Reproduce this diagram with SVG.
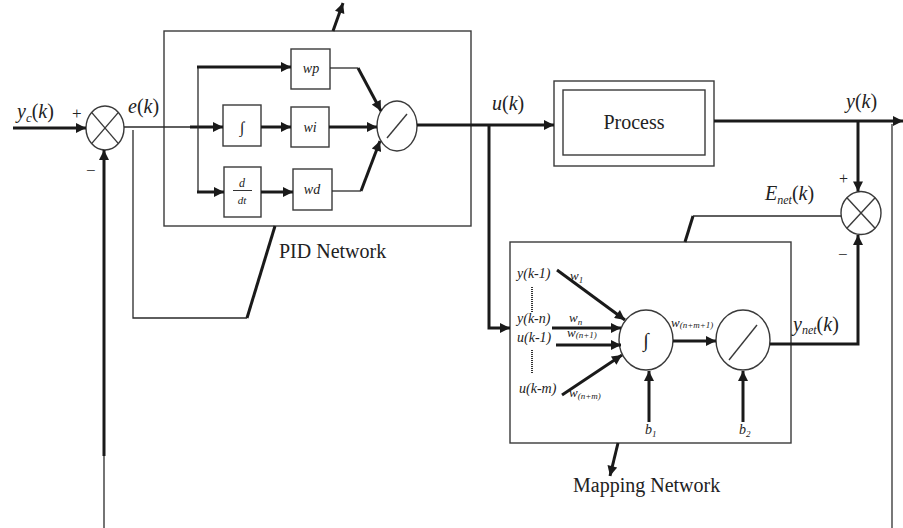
<svg xmlns="http://www.w3.org/2000/svg" width="903" height="528" viewBox="0 0 903 528">
<defs>
<marker id="ah" viewBox="0 0 10 10" refX="10" refY="5" markerWidth="12" markerHeight="10" markerUnits="userSpaceOnUse" orient="auto"><path d="M0,0 L10,5 L0,10 z" fill="#1a1a1a"/></marker>
<style>
.box{fill:none;stroke:#3a3a3a;stroke-width:1.4}
.thin{fill:none;stroke:#2a2a2a;stroke-width:1.3}
.thick{fill:none;stroke:#1a1a1a;stroke-width:3}
.gray{fill:none;stroke:#6a6a6a;stroke-width:1.8}
.arr{marker-end:url(#ah)}
text{font-family:"Liberation Serif","Times New Roman",serif;fill:#222}
.lbl{font-size:20px}
.it{font-style:italic}
.sm{font-size:14px;font-style:italic}
</style>
</defs>
<rect width="903" height="528" fill="#fff"/>

<g id="sum1">
<ellipse cx="105" cy="128" rx="19" ry="22" class="box"/>
<line x1="91.6" y1="112.4" x2="118.4" y2="143.6" class="box"/>
<line x1="91.6" y1="143.6" x2="118.4" y2="112.4" class="box"/>
</g>

<g id="pid-network">
<rect x="164" y="31" width="307" height="195" class="box"/>
<g id="wp"><rect x="291" y="49" width="39" height="40" class="box"/><text x="311" y="73" class="sm" text-anchor="middle">wp</text></g>
<g id="integ"><rect x="223" y="105" width="38" height="41" class="box"/><text x="242" y="133" font-size="16" text-anchor="middle">∫</text></g>
<g id="wi"><rect x="291" y="107" width="38" height="40" class="box"/><text x="310" y="132" class="sm" text-anchor="middle">wi</text></g>
<g id="ddt"><rect x="224" y="167" width="37" height="50" class="box"/><text x="242" y="187" font-size="12" font-style="italic" text-anchor="middle">d</text><line x1="233" y1="190.5" x2="252" y2="190.5" stroke="#333" stroke-width="1"/><text x="242" y="204" font-size="11" font-style="italic" text-anchor="middle">dt</text></g>
<g id="wd"><rect x="293" y="169" width="39" height="41" class="box"/><text x="312" y="194" class="sm" text-anchor="middle">wd</text></g>
<g id="pid-act"><ellipse cx="397" cy="126" rx="20" ry="25" class="box"/><line x1="387" y1="138" x2="407" y2="114" class="box"/></g>
<text x="279" y="258" class="lbl">PID Network</text>
</g>

<g id="process">
<rect x="554" y="81" width="160" height="85" class="box"/>
<rect x="563" y="90" width="142" height="65" class="box"/>
<text x="634" y="129" class="lbl" text-anchor="middle">Process</text>
</g>

<g id="sum2">
<ellipse cx="861" cy="213" rx="20" ry="21.5" class="box"/>
<line x1="846.9" y1="197.8" x2="875.1" y2="228.2" class="box"/>
<line x1="846.9" y1="228.2" x2="875.1" y2="197.8" class="box"/>
</g>

<g id="mapping-network">
<rect x="510" y="242" width="281" height="201" class="box"/>
<text x="517" y="278" class="sm">y(k-1)</text>
<line x1="532" y1="287" x2="532" y2="312" stroke="#333" stroke-width="2" stroke-dasharray="1,1"/>
<text x="517" y="323" class="sm">y(k-n)</text>
<text x="517" y="342" class="sm">u(k-1)</text>
<line x1="532" y1="350" x2="532" y2="373" stroke="#333" stroke-width="2" stroke-dasharray="1,1"/>
<text x="519" y="393" class="sm">u(k-m)</text>
<text x="570" y="280" font-size="13" font-style="italic">w<tspan font-size="9" dy="3">1</tspan></text>
<text x="569" y="322" font-size="13" font-style="italic">w<tspan font-size="9" dy="3">n</tspan></text>
<text x="567" y="337" font-size="13" font-style="italic">w<tspan font-size="9" dy="1">(n+1)</tspan></text>
<text x="569" y="397" font-size="13" font-style="italic">w<tspan font-size="9" dy="2">(n+m)</tspan></text>
<text x="671" y="327" font-size="13" font-style="italic">w<tspan font-size="9" dy="1">(n+m+1)</tspan></text>
<g id="sum-neuron"><ellipse cx="646" cy="340" rx="27" ry="30" class="box"/><text x="646" y="347" font-size="20" text-anchor="middle">∫</text></g>
<g id="act-neuron"><ellipse cx="743" cy="340" rx="27" ry="30" class="box"/><line x1="729" y1="360" x2="757" y2="325" class="box"/></g>
<text x="645" y="434" font-size="14" font-style="italic">b<tspan font-size="9" dy="3">1</tspan></text>
<text x="739" y="434" font-size="14" font-style="italic">b<tspan font-size="9" dy="3">2</tspan></text>
<text x="573" y="492" class="lbl">Mapping Network</text>
</g>

<g id="connectors">
<line x1="13" y1="128" x2="86" y2="128" class="thick arr"/>
<line x1="124" y1="127" x2="191" y2="127" class="thin"/>
<line x1="190" y1="127" x2="223" y2="127" class="thick arr"/>
<line x1="198" y1="67" x2="198" y2="192" class="thin"/>
<line x1="197" y1="67" x2="291" y2="67" class="thick arr"/>
<line x1="197" y1="192" x2="224" y2="192" class="thick arr"/>
<line x1="261" y1="127" x2="291" y2="127" class="thick arr"/>
<line x1="261" y1="192" x2="293" y2="192" class="thick arr"/>
<polyline points="330,68 358,68" class="thin"/>
<line x1="358" y1="68" x2="381" y2="111" class="thick arr"/>
<line x1="329" y1="127" x2="377" y2="127" class="thick arr"/>
<polyline points="332,191 361,191" class="thin"/>
<line x1="361" y1="191" x2="380" y2="141" class="thick arr"/>
<line x1="417" y1="125" x2="554" y2="125" class="thick arr"/>
<polyline points="489,125 489,328 510,328" class="thick arr"/>
<line x1="714" y1="121" x2="903" y2="121" class="thick arr"/>
<line x1="858" y1="121" x2="858" y2="191.5" class="thick arr"/>
<line x1="892" y1="124" x2="892" y2="528" class="gray"/>
<polyline points="841,216 693,216" class="thin"/>
<line x1="693" y1="216" x2="685" y2="242" class="thick"/>
<line x1="618" y1="443" x2="610" y2="476" class="thick arr"/>
<polyline points="133,130 133,318 247,318" class="thin"/>
<line x1="247" y1="318" x2="275" y2="226" class="thick"/>
<line x1="333" y1="31" x2="343" y2="3" class="thick arr"/>
<line x1="104" y1="528" x2="104" y2="455" class="thin"/>
<line x1="104" y1="456" x2="104" y2="150" class="thick arr"/>
<line x1="557" y1="270" x2="625" y2="320" class="thick arr"/>
<line x1="552" y1="328" x2="621" y2="328" class="thick arr"/>
<line x1="556" y1="345" x2="621" y2="345" class="thick arr"/>
<line x1="562" y1="395" x2="622" y2="355" class="thick arr"/>
<line x1="673" y1="341" x2="716" y2="341" class="thick arr"/>
<line x1="649" y1="422" x2="649" y2="371" class="thick arr"/>
<line x1="743" y1="422" x2="743" y2="371" class="thick arr"/>
<polyline points="770,344 858,344 858,235" class="thick arr"/>
</g>

<g id="labels">
<text x="17" y="118" class="lbl"><tspan class="it">y</tspan><tspan class="it" font-size="13" dy="4">c</tspan><tspan dy="-4">(</tspan><tspan class="it">k</tspan>)</text>
<text x="72" y="119" font-size="17">+</text>
<text x="86" y="176" font-size="17">−</text>
<text x="128" y="113" class="lbl"><tspan class="it">e</tspan>(<tspan class="it">k</tspan>)</text>
<text x="492" y="110" class="lbl"><tspan class="it">u</tspan>(<tspan class="it">k</tspan>)</text>
<text x="846" y="108" class="lbl"><tspan class="it">y</tspan>(<tspan class="it">k</tspan>)</text>
<text x="765" y="200" class="lbl"><tspan class="it">E</tspan><tspan class="it" font-size="12" dy="4">net</tspan><tspan dy="-4">(</tspan><tspan class="it">k</tspan>)</text>
<text x="839" y="184" font-size="16">+</text>
<text x="838" y="260" font-size="17">−</text>
<text x="793" y="331" class="lbl"><tspan class="it">y</tspan><tspan class="it" font-size="12" dy="3">net</tspan><tspan dy="-3">(</tspan><tspan class="it">k</tspan>)</text>
</g>
</svg>
